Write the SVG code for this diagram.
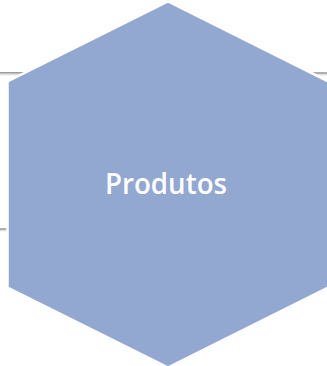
<svg xmlns="http://www.w3.org/2000/svg" width="327" height="366" viewBox="0 0 327 366">
  <style>
    .conn { stroke: #9c9c9c; stroke-width: 1.6; fill: none; }
    .shadow { stroke: #dedede; stroke-width: 1.4; fill: none; }
    .hex { fill: #92a8d1; stroke: #ffffff; stroke-width: 2.5; }
    .label { font-family: "Open Sans", "Liberation Sans", sans-serif; font-weight: 600; font-size: 28px; fill: #ffffff; }
  </style>
  <rect width="327" height="366" fill="#ffffff"/>
  <g id="connectors">
    <line class="shadow" x1="0" y1="74.6" x2="24" y2="74.6"/>
    <line class="conn" x1="0" y1="72.8" x2="24" y2="72.8"/>
    <line class="shadow" x1="312" y1="74.8" x2="327" y2="74.8"/>
    <line class="conn" x1="312" y1="73" x2="327" y2="73"/>
    <line class="shadow" x1="0" y1="230.6" x2="10" y2="230.6"/>
    <line class="conn" x1="0" y1="229" x2="10" y2="229"/>
  </g>
  <g id="node-produtos">
    <polygon class="hex" points="168,1.5 328.5,81.5 328.5,287.5 168,367.5 7.5,287.5 7.5,81.5"/>
    <text class="label" x="166" y="194" text-anchor="middle" textLength="122" lengthAdjust="spacingAndGlyphs">Produtos</text>
  </g>
</svg>
